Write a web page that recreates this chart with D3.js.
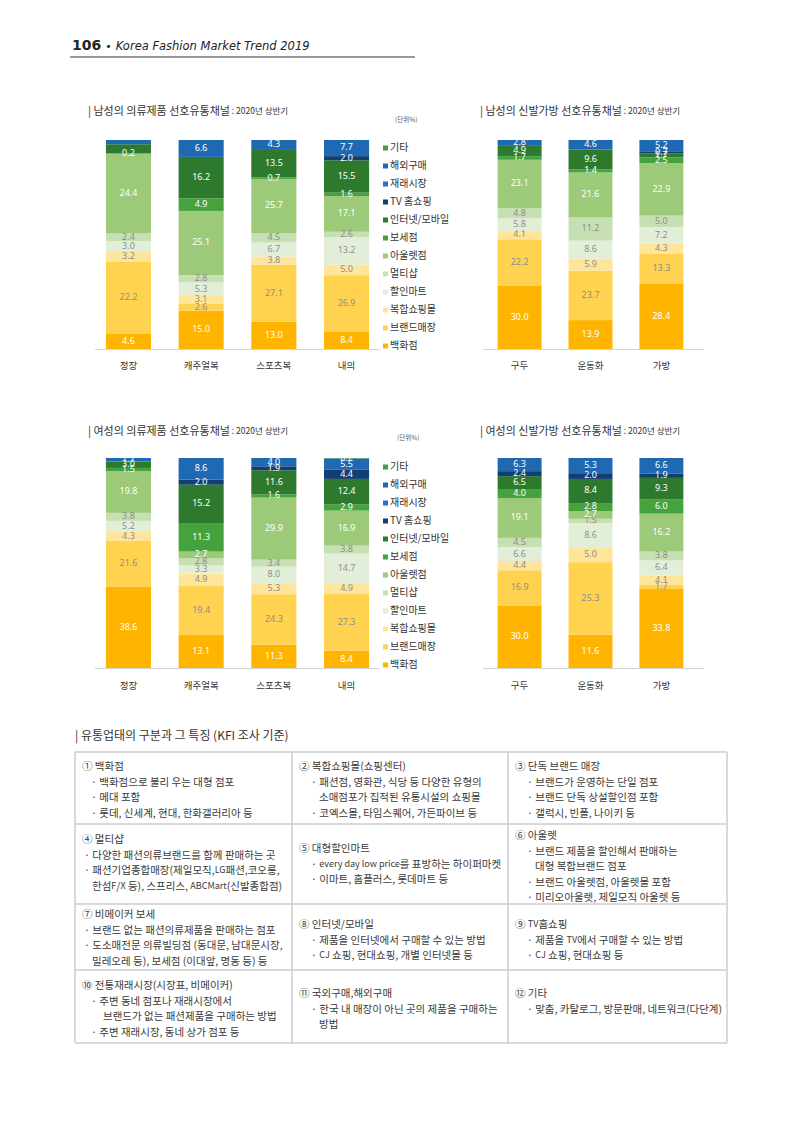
<!DOCTYPE html>
<html>
<head>
<meta charset="utf-8">
<script src="https://cdn.jsdelivr.net/npm/d3@7"></script>
<style>
  body { margin: 0; background: #fff; }
  svg text { font-family: "Noto Sans CJK KR", "Noto Sans", sans-serif; }
</style>
</head>
<body>
<div id="page"></div>
<script>
// stack order, bottom -> top
const series = ["백화점", "브랜드매장", "복합쇼핑몰", "할인마트", "멀티샵", "아울렛점",
                "보세점", "인터넷/모바일", "TV 홈쇼핑", "재래시장", "해외구매", "기타"];
const seriesColors = ["#ffb400", "#ffd34f", "#ffe59a", "#e3eed9", "#c6dfb3", "#9cca78",
                      "#46a23c", "#2d7a2f", "#123f72", "#2a72bd", "#1f69b3", "#3e9f3e"];
// labels on these series are grey, the rest white
const greyLabelSeries = [1, 2, 3, 4];

const clothesCats = ["정장", "캐주얼복", "스포츠복", "내의"];
const shoesCats = ["구두", "운동화", "가방"];

// one row per category, values in series order
const menClothesValues = [
  [4.6, 22.2, 3.2, 3.0, 2.4, 24.4, 0.2, 2.7, 0, 0, 1.3, 0],
  [15.0, 2.6, 3.1, 5.3, 2.8, 25.1, 4.9, 16.2, 0, 0, 6.6, 0],
  [13.0, 27.1, 3.8, 6.7, 4.5, 25.7, 0.7, 13.5, 0, 0, 4.3, 0],
  [8.4, 26.9, 5.0, 13.2, 2.6, 17.1, 1.6, 15.5, 2.0, 0, 7.7, 0]
];
// [category, series] segments printed without a number
const menClothesUnlabeled = [[0, 7], [0, 10]];

const menShoesValues = [
  [30.0, 22.2, 4.1, 5.8, 4.8, 23.1, 1.7, 4.9, 0, 0, 2.8, 0],
  [13.9, 23.7, 5.9, 8.6, 11.2, 21.6, 1.4, 9.6, 0, 0, 4.6, 0],
  [28.4, 13.3, 4.3, 7.2, 5.0, 22.9, 2.5, 1.7, 0.7, 0, 5.2, 0]
];

const womenClothesValues = [
  [38.6, 21.6, 4.3, 5.2, 3.8, 19.8, 1.5, 3.0, 0, 0, 1.7, 0],
  [13.1, 19.4, 4.9, 3.3, 2.8, 2.7, 11.3, 15.2, 2.0, 0, 8.6, 0],
  [11.3, 24.3, 5.3, 8.0, 3.4, 29.9, 1.6, 11.6, 1.9, 0, 4.0, 0],
  [8.4, 27.3, 4.9, 14.7, 3.8, 16.9, 2.9, 12.4, 4.4, 0, 5.5, 0.2]
];

const womenShoesValues = [
  [30.0, 16.9, 4.4, 6.6, 4.5, 19.1, 4.0, 6.5, 2.4, 0, 6.3, 0],
  [11.6, 25.3, 5.0, 8.6, 1.5, 2.7, 2.8, 8.4, 2.0, 0, 5.3, 0],
  [33.8, 1.7, 4.1, 6.4, 3.8, 16.2, 6.0, 9.3, 1.9, 0, 6.6, 0]
];

const W = 800, H = 1131;

const svg = d3.select("#page")
  .append("svg")
  .attr("width", W)
  .attr("height", H);

svg.append("rect").attr("width", W).attr("height", H).attr("fill", "#fff");

// page header
const head = svg.append("text")
  .attr("x", 72).attr("y", 50)
  .attr("fill", "#222")
  .style("font-family", "'DejaVu Sans', sans-serif");
head.append("tspan").attr("font-size", 14).attr("font-weight", "bold").text("106");
head.append("tspan").attr("font-size", 11).attr("dx", 4).text("•");
head.append("tspan").attr("font-size", 11.5).attr("dx", 4).attr("font-style", "italic")
  .text("Korea Fashion Market Trend 2019");
svg.append("line")
  .attr("x1", 70).attr("x2", 415).attr("y1", 57).attr("y2", 57)
  .attr("stroke", "#333").attr("stroke-width", 1);

const panels = [
  { title: "| 남성의 의류제품 선호유통채널", sub: " : 2020년 상반기", tx: 88, ty: 112,
    cats: clothesCats, values: menClothesValues, unlabeled: menClothesUnlabeled,
    x0: 95, x1: 380, axis: [95, 380], top: 140, bottom: 349, catY: 366,
    legend: { x: 383, y: 148 }, unit: { x: 395, y: 120 } },
  { title: "| 남성의 신발가방 선호유통채널", sub: "  : 2020년 상반기", tx: 480, ty: 112,
    cats: shoesCats, values: menShoesValues, unlabeled: [],
    x0: 487, x1: 694, axis: [483, 704], top: 140, bottom: 349, catY: 366 },
  { title: "| 여성의 의류제품 선호유통채널", sub: " : 2020년 상반기", tx: 88, ty: 432,
    cats: clothesCats, values: womenClothesValues, unlabeled: [],
    x0: 95, x1: 380, axis: [95, 380], top: 458, bottom: 668, catY: 686,
    legend: { x: 383, y: 467 }, unit: { x: 397, y: 438 } },
  { title: "| 여성의 신발가방 선호유통채널", sub: "  : 2020년 상반기", tx: 480, ty: 432,
    cats: shoesCats, values: womenShoesValues, unlabeled: [],
    x0: 487, x1: 694, axis: [483, 704], top: 458, bottom: 668, catY: 686 }
];

panels.forEach(drawPanel);

function drawPanel(p) {
  const g = svg.append("g");

  const t = g.append("text")
    .attr("x", p.tx).attr("y", p.ty)
    .attr("dominant-baseline", "middle")
    .attr("fill", "#333");
  t.append("tspan").attr("font-size", 11).text(p.title);
  t.append("tspan").attr("font-size", 8.5).text(p.sub);

  const rows = p.cats.map(function(c, i) {
    const r = { cat: c };
    series.forEach(function(s, j) { r[s] = p.values[i][j]; });
    return r;
  });

  const stacked = d3.stack()
    .keys(series)
    .offset(d3.stackOffsetExpand)(rows);

  const x = d3.scaleBand()
    .domain(p.cats)
    .range([p.x0, p.x1])
    .paddingInner(0.38)
    .paddingOuter(0.15);

  const y = d3.scaleLinear()
    .domain([0, 1])
    .range([p.bottom, p.top]);

  const layers = g.selectAll("g.layer")
    .data(stacked)
    .enter().append("g")
    .attr("class", "layer")
    .attr("fill", function(d) { return seriesColors[d.index]; });

  layers.selectAll("rect")
    .data(function(d) { return d; })
    .enter().append("rect")
    .attr("x", function(d) { return x(d.data.cat); })
    .attr("width", x.bandwidth())
    .attr("y", function(d) { return y(d[1]); })
    .attr("height", function(d) { return Math.max(0, y(d[0]) - y(d[1])); });

  // value labels
  const hidden = {};
  p.unlabeled.forEach(function(u) { hidden[u[0] + "-" + u[1]] = true; });

  stacked.forEach(function(layer) {
    const si = layer.index;
    layer.forEach(function(d, ci) {
      const v = p.values[ci][si];
      if (!v || hidden[ci + "-" + si]) return;
      g.append("text")
        .attr("x", x(d.data.cat) + x.bandwidth() / 2)
        .attr("y", (y(d[0]) + y(d[1])) / 2)
        .attr("text-anchor", "middle")
        .attr("dominant-baseline", "middle")
        .attr("font-size", 9)
        .style("font-family", "'Noto Sans', sans-serif")
        .attr("fill", greyLabelSeries.indexOf(si) >= 0 ? "#8e8e8e" : "#ffffff")
        .text(v.toFixed(1));
    });
  });

  g.append("line")
    .attr("x1", p.axis[0]).attr("x2", p.axis[1])
    .attr("y1", p.bottom + 0.5).attr("y2", p.bottom + 0.5)
    .attr("stroke", "#d4d4d4").attr("stroke-width", 1);

  g.selectAll("text.cat")
    .data(p.cats)
    .enter().append("text")
    .attr("class", "cat")
    .attr("x", function(d) { return x(d) + x.bandwidth() / 2; })
    .attr("y", p.catY)
    .attr("text-anchor", "middle")
    .attr("dominant-baseline", "middle")
    .attr("font-size", 9.5)
    .attr("fill", "#333")
    .text(function(d) { return d; });

  if (p.unit) {
    g.append("text")
      .attr("x", p.unit.x).attr("y", p.unit.y)
      .attr("dominant-baseline", "middle")
      .attr("font-size", 6.5)
      .attr("fill", "#555")
      .text("(단위%)");
  }

  if (p.legend) {
    const legendItems = series.slice().reverse();
    const lg = g.selectAll("g.leg")
      .data(legendItems)
      .enter().append("g")
      .attr("class", "leg")
      .attr("transform", function(d, i) {
        return "translate(" + p.legend.x + "," + (p.legend.y + i * 18) + ")";
      });
    lg.append("rect")
      .attr("x", 0).attr("y", -2.5)
      .attr("width", 5).attr("height", 5)
      .attr("fill", function(d) { return seriesColors[series.indexOf(d)]; });
    lg.append("text")
      .attr("x", 7).attr("y", 0)
      .attr("dominant-baseline", "middle")
      .attr("font-size", 10)
      .attr("fill", "#333")
      .text(function(d) { return d; });
  }
}

// distribution channel table
svg.append("text")
  .attr("x", 75).attr("y", 737)
  .attr("dominant-baseline", "middle")
  .attr("font-size", 12)
  .attr("fill", "#333")
  .text("|  유통업태의 구분과 그 특징 (KFI 조사 기준)");

const colEdges = [75, 292, 508, 727];
const rowEdges = [752, 824, 904, 970, 1043];

// b = bullet indent, k = continuation indent
const cells = [
  { c: 0, r: 0, y: 767, b: 16, k: 23, lines: ["① 백화점", "· 백화점으로 불리 우는 대형 점포", "· 메대 포함", "· 롯데, 신세계, 현대, 한화갤러리아 등"] },
  { c: 1, r: 0, y: 767, b: 19, k: 27, lines: ["② 복합쇼핑몰(쇼핑센터)", "· 패션점, 영화관, 식당 등 다양한 유형의", "_소매점포가 집적된 유통시설의 쇼핑몰", "· 코엑스몰, 타임스퀘어, 가든파이브 등"] },
  { c: 2, r: 0, y: 767, b: 19, k: 27, lines: ["③ 단독 브랜드 매장", "· 브랜드가 운영하는 단일 점포", "· 브랜드 단독 상설할인점 포함", "· 갤럭시, 빈폴, 나이키 등"] },
  { c: 0, r: 1, y: 840, b: 9, k: 17, lines: ["④ 멀티샵", "· 다양한 패션의류브랜드를 함께 판매하는 곳", "· 패션기업종합매장(제일모직,LG패션,코오롱,", "_한섬F/X 등), 스프리스, ABCMart(신발종합점)"] },
  { c: 1, r: 1, y: 849, b: 19, k: 27, lines: ["⑤ 대형할인마트", "· every day low price를 표방하는 하이퍼마켓", "· 이마트, 홈플러스, 롯데마트 등"] },
  { c: 2, r: 1, y: 836, b: 19, k: 27, lines: ["⑥ 아울렛", "· 브랜드 제품을 할인해서 판매하는", "_대형 복합브랜드 점포", "· 브랜드 아울렛점, 아울렛몰 포함", "· 미리오아울렛, 제일모직 아울렛 등"] },
  { c: 0, r: 2, y: 915, b: 9, k: 17, lines: ["⑦ 비메이커 보세", "· 브랜드 없는 패션의류제품을 판매하는 점포", "· 도소매전문 의류빌딩점 (동대문, 남대문시장,", "_밀레오레 등), 보세점 (이대앞, 명동 등) 등"] },
  { c: 1, r: 2, y: 925, b: 19, k: 27, lines: ["⑧ 인터넷/모바일", "· 제품을 인터넷에서 구매할 수 있는 방법", "· CJ 쇼핑, 현대쇼핑, 개별 인터넷몰 등"] },
  { c: 2, r: 2, y: 925, b: 19, k: 27, lines: ["⑨ TV홈쇼핑", "· 제품을 TV에서 구매할 수 있는 방법", "· CJ 쇼핑, 현대쇼핑 등"] },
  { c: 0, r: 3, y: 986, b: 16, k: 28, lines: ["⑩ 전통재래시장(시장표, 비메이커)", "· 주변 동네 점포나 재래시장에서", "_브랜드가 없는 패션제품을 구매하는 방법", "· 주변 재래시장, 동네 상가 점포 등"] },
  { c: 1, r: 3, y: 994, b: 19, k: 27, lines: ["⑪ 국외구매,해외구매", "· 한국 내 매장이 아닌 곳의 제품을 구매하는", "_방법"] },
  { c: 2, r: 3, y: 994, b: 19, k: 27, lines: ["⑫ 기타", "· 맞춤, 카탈로그, 방문판매, 네트워크(다단계)"] }
];

const table = svg.append("g");

rowEdges.forEach(function(ry) {
  table.append("line")
    .attr("x1", colEdges[0]).attr("x2", colEdges[3])
    .attr("y1", ry).attr("y2", ry)
    .attr("stroke", "#cccccc").attr("stroke-width", 1.5);
});
colEdges.forEach(function(cx) {
  table.append("line")
    .attr("x1", cx).attr("x2", cx)
    .attr("y1", rowEdges[0]).attr("y2", rowEdges[4])
    .attr("stroke", "#cccccc").attr("stroke-width", 1.5);
});

cells.forEach(function(cell) {
  cell.lines.forEach(function(ln, i) {
    let dx = 7, txt = ln;
    if (ln.charAt(0) === "·") dx = cell.b;
    if (ln.charAt(0) === "_") { dx = cell.k; txt = ln.slice(1); }
    const x0 = colEdges[cell.c] + dx;
    const el = table.append("text")
      .attr("x", x0)
      .attr("y", cell.y + i * 15.5)
      .attr("dominant-baseline", "middle")
      .attr("font-size", 10.5)
      .attr("fill", "#3a3a3a");
    // latin runs are set a little smaller, as in the printed table
    txt.split(/([A-Za-z][A-Za-z ]*[A-Za-z]|[A-Za-z])/).forEach(function(part) {
      if (!part) return;
      const latin = /^[A-Za-z]/.test(part);
      el.append("tspan")
        .attr("font-size", latin ? 9 : 10.5)
        .text(part);
    });
    // keep every line inside its cell
    const room = colEdges[cell.c + 1] - x0 - 5;
    const len = el.node().getComputedTextLength();
    if (len > room) {
      el.attr("textLength", room).attr("lengthAdjust", "spacingAndGlyphs");
    }
  });
});
</script>
</body>
</html>
